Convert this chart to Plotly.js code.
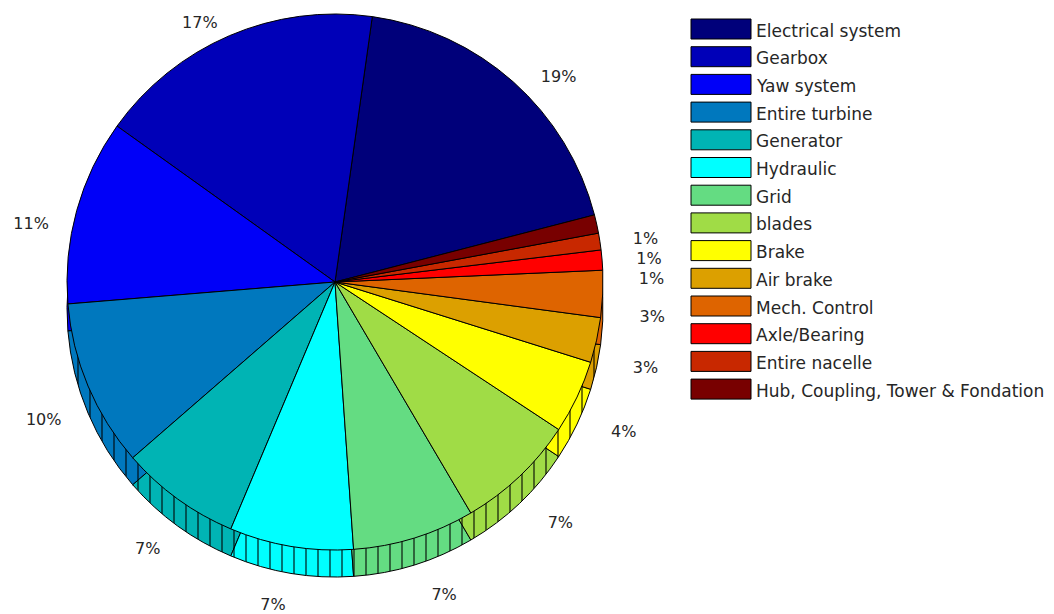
<!DOCTYPE html>
<html>
<head>
<meta charset="utf-8">
<script src="https://cdn.plot.ly/plotly-3.0.1.min.js"></script>
<style>
  html, body { margin: 0; padding: 0; background: #ffffff; }
  #chart { width: 1054px; height: 614px; }
  .pielayer path.textline { display: none; }
</style>
</head>
<body>
<div id="chart"></div>
<script>
// ---- data ----
var categories = [
  'Electrical system', 'Gearbox', 'Yaw system', 'Entire turbine', 'Generator',
  'Hydraulic', 'Grid', 'blades', 'Brake', 'Air brake', 'Mech. Control',
  'Axle/Bearing', 'Entire nacelle', 'Hub, Coupling, Tower & Fondation'
];
var shares = [18.6, 17.2, 11.1, 10.0, 7.2, 7.4, 7.3, 7.2, 4.4, 2.7, 2.8, 1.2, 1.0, 1.1];
var percentLabels = ['19%', '17%', '11%', '10%', '7%', '7%', '7%', '7%', '4%', '3%', '3%', '1%', '1%', '1%'];
var sliceColors = [
  '#00007a', '#0000b8', '#0000f8', '#0078be', '#00b4b4', '#00ffff', '#64dc82',
  '#a0dc46', '#ffff00', '#dca000', '#de6400', '#ff0000', '#c82800', '#780000'
];

var W = 1054, H = 614;
var FONT = 'DejaVu Sans, Verdana, Arial, sans-serif';

// helper: domain from pixel centre + radius
function dom(cx, cy, r) {
  return {
    x: [(cx - r) / W, (cx + r) / W],
    y: [(H - cy - r) / H, (H - cy + r) / H]
  };
}

function baseTrace() {
  return {
    type: 'pie',
    labels: categories.slice(),
    values: shares.slice(),
    sort: false,
    direction: 'counterclockwise',
    rotation: 8
  };
}

// side wall of the 3-D pie (drawn behind, shifted down)
var sideTrace = Object.assign(baseTrace(), {
  domain: dom(335, 309, 268),
  marker: {
    colors: sliceColors.slice(),
    line: { color: '#000000', width: 1 },
    pattern: {
      shape: '|', fgcolor: '#000000', fgopacity: 0.9,
      bgcolor: sliceColors.slice(), size: 12, solidity: 0.1
    }
  },
  textinfo: 'none',
  showlegend: false,
  hoverinfo: 'skip'
});

// top face
var topTrace = Object.assign(baseTrace(), {
  domain: dom(335, 282, 268),
  marker: { colors: sliceColors.slice(), line: { color: '#000000', width: 1 } },
  textinfo: 'none',
  showlegend: false,
  hoverinfo: 'label+percent'
});

// percentage labels around the pie
var labelTrace = Object.assign(baseTrace(), {
  domain: dom(339, 303, 296),
  marker: { colors: sliceColors.map(function () { return 'rgba(0,0,0,0)'; }), line: { width: 0 } },
  text: percentLabels.slice(),
  textinfo: 'text',
  textposition: 'outside',
  textfont: { family: FONT, size: 16, color: '#262626' },
  showlegend: false,
  hoverinfo: 'skip'
});

// legend built from the category / colour arrays
var shapes = [], annotations = [];
var lgX0 = 691, lgX1 = 751, lgY0 = 19, lgStep = 27.7, lgH = 20;
categories.forEach(function (name, i) {
  var y0 = lgY0 + i * lgStep;
  shapes.push({
    type: 'rect', xref: 'paper', yref: 'paper',
    x0: lgX0 / W, x1: lgX1 / W,
    y0: 1 - y0 / H, y1: 1 - (y0 + lgH) / H,
    fillcolor: sliceColors[i],
    line: { color: '#000000', width: 1 }
  });
  annotations.push({
    xref: 'paper', yref: 'paper',
    x: (lgX1 + 3) / W, y: 1 - (y0 + lgH / 2 + 1.5) / H,
    xanchor: 'left', yanchor: 'middle',
    text: name.replace(/&/g, '&amp;'),
    showarrow: false,
    font: { family: FONT, size: 17, color: '#262626' }
  });
});

var layout = {
  width: W, height: H,
  margin: { l: 0, r: 0, t: 0, b: 0 },
  paper_bgcolor: '#ffffff',
  plot_bgcolor: '#ffffff',
  showlegend: false,
  font: { family: FONT, size: 16, color: '#262626' },
  shapes: shapes,
  annotations: annotations
};

Plotly.newPlot('chart', [sideTrace, topTrace, labelTrace], layout, { displayModeBar: false, staticPlot: true });
</script>
</body>
</html>
